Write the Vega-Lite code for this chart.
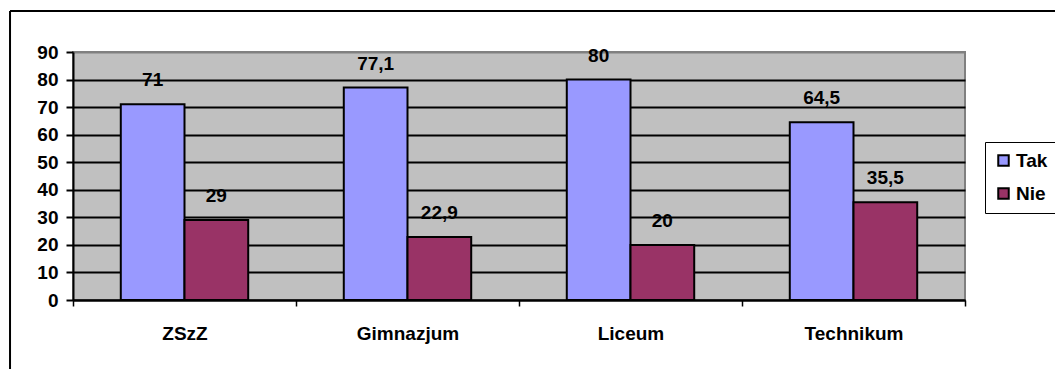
{
  "$schema": "https://vega.github.io/schema/vega-lite/v6.json",
  "width": 892,
  "height": 248,
  "autosize": {"type": "none"},
  "padding": {"left": 73, "top": 52, "right": 90, "bottom": 69},
  "background": "white",
  "config": {
    "locale": {"number": {"decimal": ",", "thousands": " ", "grouping": [3], "currency": ["", " zł"]}},
    "font": "Liberation Sans",
    "view": {"fill": "#C0C0C0", "stroke": "#808080", "strokeWidth": 2}
  },
  "layer": [
    {
      "data": {
        "values": [
          {"szkola": "ZSzZ", "odp": "Tak", "wartosc": 71},
          {"szkola": "ZSzZ", "odp": "Nie", "wartosc": 29},
          {"szkola": "Gimnazjum", "odp": "Tak", "wartosc": 77.1},
          {"szkola": "Gimnazjum", "odp": "Nie", "wartosc": 22.9},
          {"szkola": "Liceum", "odp": "Tak", "wartosc": 80},
          {"szkola": "Liceum", "odp": "Nie", "wartosc": 20},
          {"szkola": "Technikum", "odp": "Tak", "wartosc": 64.5},
          {"szkola": "Technikum", "odp": "Nie", "wartosc": 35.5}
        ]
      },
      "encoding": {
        "x": {
          "field": "szkola",
          "type": "nominal",
          "sort": null,
          "scale": {"paddingInner": 0, "paddingOuter": 0},
          "axis": {
            "title": null,
            "labelAngle": 0,
            "tickBand": "extent",
            "grid": false,
            "domainColor": "black",
            "domainWidth": 2,
            "tickColor": "black",
            "tickWidth": 1.5,
            "tickSize": 6,
            "labelFont": "Liberation Sans",
            "labelFontSize": 19,
            "labelFontWeight": "bold",
            "labelColor": "black",
            "labelPadding": 18
          }
        },
        "xOffset": {
          "field": "odp",
          "sort": ["Tak", "Nie"],
          "scale": {"paddingInner": 0, "paddingOuter": 0.75}
        },
        "y": {
          "field": "wartosc",
          "type": "quantitative",
          "scale": {"domain": [0, 90], "nice": false},
          "axis": {
            "title": null,
            "values": [0, 10, 20, 30, 40, 50, 60, 70, 80, 90],
            "grid": true,
            "gridColor": {"condition": {"test": "datum.value === 90", "value": "#808080"}, "value": "black"},
            "gridWidth": 2,
            "domainColor": "black",
            "domainWidth": 2,
            "tickColor": "black",
            "tickWidth": 2,
            "tickSize": 7,
            "labelFont": "Liberation Sans",
            "labelFontSize": 19,
            "labelFontWeight": "bold",
            "labelColor": "black",
            "labelPadding": 8
          }
        }
      },
      "layer": [
        {
          "mark": {"type": "bar", "stroke": "black", "strokeWidth": 2, "opacity": 1},
          "encoding": {
            "color": {
              "field": "odp",
              "type": "nominal",
              "sort": ["Tak", "Nie"],
              "scale": {"domain": ["Tak", "Nie"], "range": ["#9999FF", "#993366"]},
              "legend": {
                "title": null,
                "orient": "none",
                "legendX": 912,
                "legendY": 90,
                "strokeColor": "black",
                "padding": 9,
                "symbolType": "square",
                "symbolSize": 110,
                "symbolStrokeColor": "black",
                "symbolStrokeWidth": 2,
                "symbolOpacity": 1,
                "labelFont": "Liberation Sans",
                "labelFontSize": 19,
                "labelFontWeight": "bold",
                "labelColor": "black",
                "labelOffset": 3,
                "rowPadding": 13
              }
            }
          }
        },
        {
          "mark": {
            "type": "text",
            "font": "Liberation Sans",
            "fontSize": 19,
            "fontWeight": "bold",
            "color": "black",
            "baseline": "middle",
            "dy": -24
          },
          "encoding": {
            "text": {"field": "wartosc", "type": "quantitative", "format": ".1~f"}
          }
        }
      ]
    },
    {
      "data": {"values": [{}]},
      "encoding": {
        "x": {"datum": -0.0706, "type": "quantitative", "scale": {"domain": [0, 1], "nice": false, "zero": false}, "axis": null},
        "y": {"datum": 1.1653, "type": "quantitative", "scale": {"domain": [0, 1], "nice": false, "zero": false}, "axis": null}
      },
      "layer": [
        {
          "mark": {"type": "rule", "color": "black", "strokeWidth": 2},
          "encoding": {"y2": {"datum": -0.5}}
        },
        {
          "mark": {"type": "rule", "color": "black", "strokeWidth": 2},
          "encoding": {"x2": {"datum": 1.3}}
        }
      ]
    }
  ],
  "resolve": {"scale": {"x": "independent", "y": "independent", "color": "independent"}}
}
